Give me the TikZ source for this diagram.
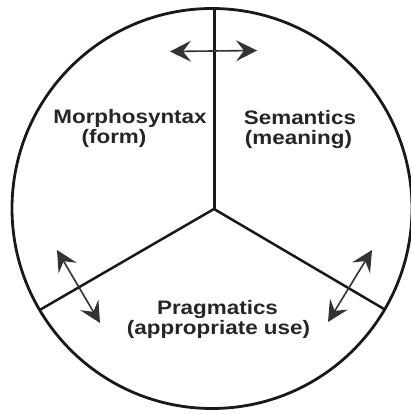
\documentclass[tikz,border=0pt]{standalone}
\usepackage{fontspec}
\setmainfont[FakeStretch=1.15]{Liberation Sans}
\usetikzlibrary{arrows.meta,calc}
\tikzset{
  x=1pt, y=1pt,
  ring/.style={line width=2.8pt, draw=black!90},
  vspoke/.style={line width=3pt, draw=black!90},
  spoke/.style={line width=2.5pt, draw=black!90},
  dbl/.style={line width=1.6pt, draw=black!80, {Stealth[length=21pt,width=21pt,inset=8pt]}-{Stealth[length=21pt,width=21pt,inset=8pt]}},
  lbl/.style={font=\bfseries\fontsize{19.5}{22}\selectfont, text=black!85, inner sep=0pt, anchor=base}
}
\begin{document}
\begin{tikzpicture}
\useasboundingbox (0,0) rectangle (411,414);
\coordinate (c) at (212,205.5);
\coordinate (j) at (214,205);
\coordinate (top) at (214,405.4);
\coordinate (le) at ($(c)+(210.5:200pt)$);
\coordinate (re) at ($(c)+(-30.3:200pt)$);
\draw[ring] (c) circle[radius=200pt];
\draw[vspoke] (top) -- (j);
\draw[spoke] (j) -- (le);
\draw[spoke] (j) -- (re);
\coordinate (t1) at (170,362.5);
\coordinate (t2) at (257,363.5);
\coordinate (l1) at (57,164);
\coordinate (l2) at (100,91);
\coordinate (r1) at (372,164);
\coordinate (r2) at (328,92);
\draw[dbl] (t1) -- (t2);
\draw[dbl] (l1) -- (l2);
\draw[dbl] (r1) -- (r2);
\node[lbl] (m1) at (130,290) {Morphosyntax};
\node[lbl] (m2) at (114,270) {(form)};
\node[lbl] (s1) at (300,289) {Semantics};
\node[lbl] (s2) at (298.5,269) {(meaning)};
\node[lbl] (p1) at (217.5,99) {Pragmatics};
\node[lbl] (p2) at (218.5,79) {(appropriate use)};
\end{tikzpicture}
\end{document}
